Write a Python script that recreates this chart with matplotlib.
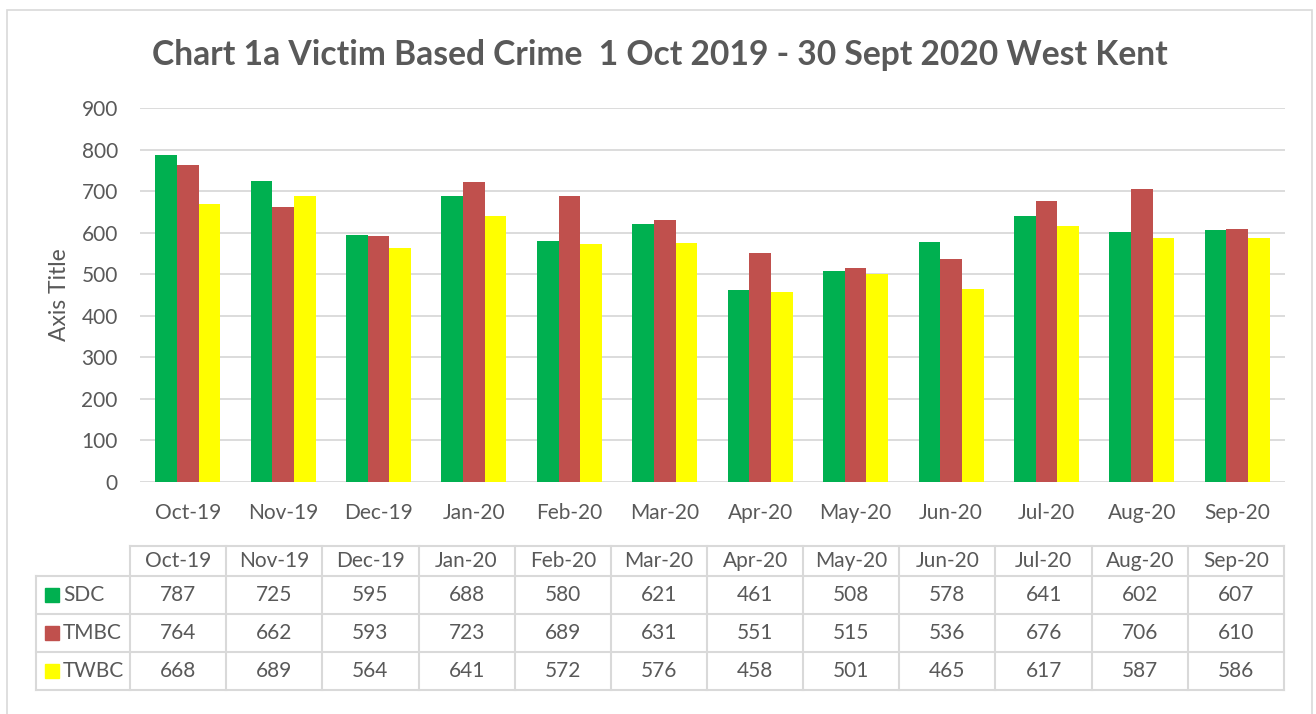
import matplotlib
matplotlib.use("Agg")
import matplotlib.pyplot as plt
import numpy as np
from matplotlib.patches import Rectangle
from matplotlib.lines import Line2D

months = ["Oct-19", "Nov-19", "Dec-19", "Jan-20", "Feb-20", "Mar-20",
          "Apr-20", "May-20", "Jun-20", "Jul-20", "Aug-20", "Sep-20"]
sdc = [787, 725, 595, 688, 580, 621, 461, 508, 578, 641, 602, 607]
tmbc = [764, 662, 593, 723, 689, 631, 551, 515, 536, 676, 706, 610]
twbc = [668, 689, 564, 641, 572, 576, 458, 501, 465, 617, 587, 586]
series_names = ["SDC", "TMBC", "TWBC"]
series_vals = [sdc, tmbc, twbc]
colors = ["#00B050", "#C0504D", "#FFFF00"]
yticks = [0, 100, 200, 300, 400, 500, 600, 700, 800, 900]
title = "Chart 1a Victim Based Crime  1 Oct 2019 - 30 Sept 2020 West Kent"

TXT = "#595959"
GRID = "#D9D9D9"
FONT = "Lato"
plt.rcParams['font.family'] = [FONT, 'DejaVu Sans']

W, H = 1316, 714
fig = plt.figure(figsize=(W / 100, H / 100), dpi=100)

def fx(px):
    return px / W

def fy(py):
    return 1 - py / H

# outer chart border
fig.patches.append(Rectangle((fx(7), fy(740)), fx(1312) - fx(7), fy(10) - fy(740),
                             transform=fig.transFigure, fill=False,
                             edgecolor=GRID, linewidth=1.2))

# plot area
left, right, top, bottom = 140, 1285, 108, 482
ax = fig.add_axes([fx(left), fy(bottom), fx(right) - fx(left), fy(top) - fy(bottom)])
x = np.arange(len(months))
bw = 0.227
for i, (vals, c) in enumerate(zip(series_vals, colors)):
    ax.bar(x + (i - 1) * bw, vals, width=bw, color=c, zorder=3)
ax.set_xlim(-0.5, len(months) - 0.5)
ax.set_ylim(0, 900)
ax.set_yticks(yticks)
ax.set_xticks(x)
ax.set_xticklabels(months)
ax.grid(axis='y', color=GRID, linewidth=1.3, zorder=0)
for s in ax.spines.values():
    s.set_visible(False)
ax.tick_params(axis='both', length=0, labelsize=15, labelcolor=TXT)
ax.tick_params(axis='x', pad=15)
ax.tick_params(axis='y', pad=16)
ax.set_ylabel("Axis Title", fontsize=16.5, color=TXT, labelpad=8)
ax.set_facecolor("none")

fig.text(fx(660), fy(55), title, ha='center', va='center', fontsize=24.2,
         fontweight='bold', color=TXT)

# data table
tl, tr = 130, 1284
rh_left = 36
col_w = (tr - tl) / len(months)
row_y = [546, 576, 614, 652, 690]
lw = 1.5
fig.add_artist(Line2D([fx(tl), fx(tr)], [fy(row_y[0]), fy(row_y[0])], color=GRID, lw=lw))
for yy in row_y[1:]:
    fig.add_artist(Line2D([fx(rh_left), fx(tr)], [fy(yy), fy(yy)], color=GRID, lw=lw))
fig.add_artist(Line2D([fx(rh_left), fx(rh_left)], [fy(row_y[1]), fy(row_y[-1])], color=GRID, lw=lw))
for j in range(len(months) + 1):
    xx = tl + j * col_w
    fig.add_artist(Line2D([fx(xx), fx(xx)], [fy(row_y[0]), fy(row_y[-1])], color=GRID, lw=lw))
for j, m in enumerate(months):
    fig.text(fx(tl + (j + 0.5) * col_w), fy((row_y[0] + row_y[1]) / 2), m,
             ha='center', va='center', fontsize=15, color=TXT)
for i, (name, vals, c) in enumerate(zip(series_names, series_vals, colors)):
    yc = (row_y[i + 1] + row_y[i + 2]) / 2
    fig.patches.append(Rectangle((fx(45), fy(yc + 7)), fx(14), fy(0) - fy(14),
                                 transform=fig.transFigure, color=c))
    fig.text(fx(63), fy(yc), name, ha='left', va='center', fontsize=15, color=TXT)
    for j, v in enumerate(vals):
        fig.text(fx(tl + (j + 0.5) * col_w), fy(yc), str(v),
                 ha='center', va='center', fontsize=15, color=TXT)

fig.savefig("out.png", dpi=100, facecolor="white")
